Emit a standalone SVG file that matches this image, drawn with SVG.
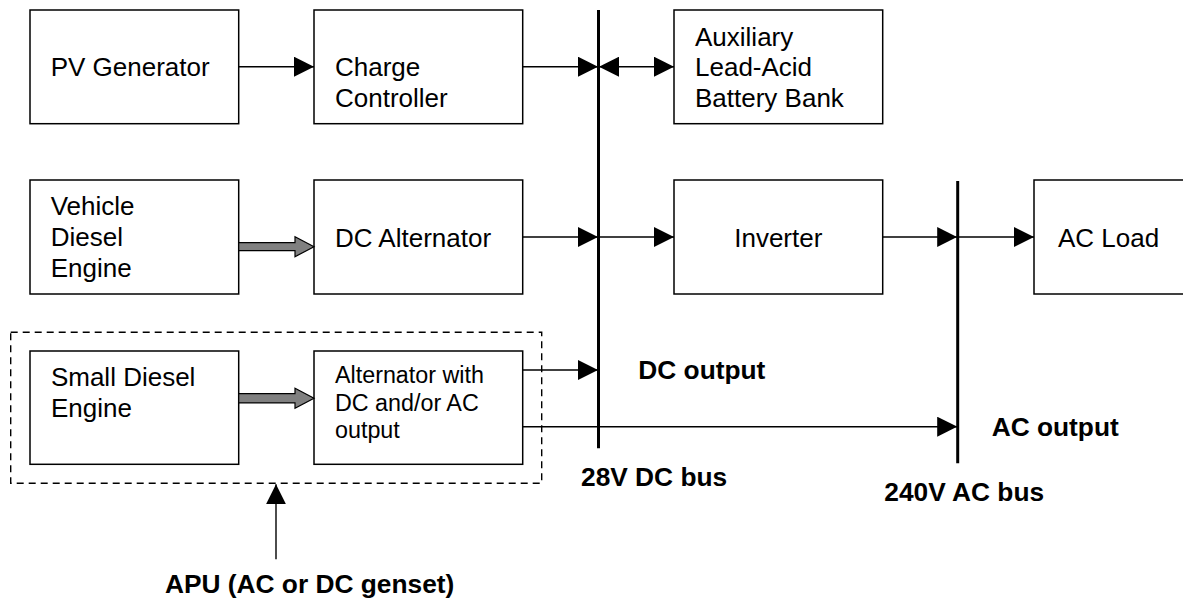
<svg xmlns="http://www.w3.org/2000/svg" width="1183" height="600" viewBox="0 0 1183 600">
<style>
.box{fill:#fff;stroke:#000;stroke-width:1.5}
.t{font-family:"Liberation Sans",Arial,sans-serif;font-size:26px;fill:#000}
.ts{font-family:"Liberation Sans",Arial,sans-serif;font-size:23.3px;fill:#000}
.b{font-family:"Liberation Sans",Arial,sans-serif;font-size:26.3px;font-weight:bold;fill:#000}
.ln{stroke:#000;stroke-width:1.4;fill:none}
.bus{stroke:#000;stroke-width:3;fill:none}
.gray{fill:#808080;stroke:#000;stroke-width:1.2}
.dash{fill:none;stroke:#000;stroke-width:1.4;stroke-dasharray:7 5}
</style>
<defs>
<marker id="ah" viewBox="0 0 20 20" refX="20" refY="10" markerWidth="20" markerHeight="20" markerUnits="userSpaceOnUse" orient="auto">
<path d="M0,0 L20,10 L0,20 Z" fill="#000"/>
</marker>
</defs>

<g id="apu-boundary">
<rect class="dash" x="10.7" y="332.3" width="531" height="151"/>
</g>

<g id="pv-generator">
<rect class="box" x="30" y="10" width="208.7" height="113.7"/>
<text class="t" x="50.7" y="76">PV Generator</text>
</g>
<g id="charge-controller">
<rect class="box" x="314" y="10" width="208.7" height="113.7"/>
<text class="t" x="335" y="76">Charge</text>
<text class="t" x="335" y="106.5">Controller</text>
</g>
<g id="battery-bank">
<rect class="box" x="674" y="10" width="208.7" height="113.7"/>
<text class="t" x="695" y="45.7">Auxiliary</text>
<text class="t" x="695" y="76">Lead-Acid</text>
<text class="t" x="695" y="106.5">Battery Bank</text>
</g>
<g id="vehicle-engine">
<rect class="box" x="30" y="180" width="208.7" height="114"/>
<text class="t" x="50.7" y="215">Vehicle</text>
<text class="t" x="50.7" y="246">Diesel</text>
<text class="t" x="50.7" y="276.7">Engine</text>
</g>
<g id="dc-alternator">
<rect class="box" x="314" y="180" width="208.7" height="114"/>
<text class="t" x="335" y="246.5">DC Alternator</text>
</g>
<g id="inverter">
<rect class="box" x="674" y="180" width="208.7" height="114"/>
<text class="t" x="778.3" y="246.5" text-anchor="middle">Inverter</text>
</g>
<g id="ac-load">
<rect class="box" x="1034" y="180" width="160" height="114"/>
<text class="t" x="1058" y="246.5">AC Load</text>
</g>
<g id="small-engine">
<rect class="box" x="30" y="351" width="208.7" height="113.3"/>
<text class="t" x="50.9" y="386">Small Diesel</text>
<text class="t" x="50.9" y="416.7">Engine</text>
</g>
<g id="apu-alternator">
<rect class="box" x="314" y="351" width="208.7" height="113.3"/>
<text class="ts" x="335" y="383.3">Alternator with</text>
<text class="ts" x="335" y="410.5">DC and/or AC</text>
<text class="ts" x="335" y="437.7">output</text>
</g>

<g id="dc-bus">
<line class="bus" x1="598.5" y1="10" x2="598.5" y2="448.3"/>
<text class="b" x="581" y="485.7">28V DC bus</text>
<text class="b" x="638.3" y="379.3">DC output</text>
</g>
<g id="ac-bus">
<line class="bus" x1="957.7" y1="181" x2="957.7" y2="463.3"/>
<text class="b" x="884.3" y="500.7">240V AC bus</text>
<text class="b" x="991.7" y="436">AC output</text>
</g>
<g id="apu-label">
<text class="b" x="165" y="593">APU (AC or DC genset)</text>
</g>

<g id="connectors">
<line class="ln" x1="238.7" y1="66.7" x2="314" y2="66.7" marker-end="url(#ah)"/>
<line class="ln" x1="522.7" y1="66.7" x2="598" y2="66.7" marker-end="url(#ah)"/>
<line class="ln" x1="619" y1="66.7" x2="599" y2="66.7" marker-end="url(#ah)"/>
<line class="ln" x1="619" y1="66.7" x2="674" y2="66.7" marker-end="url(#ah)"/>
<line class="ln" x1="522.7" y1="237" x2="598" y2="237" marker-end="url(#ah)"/>
<line class="ln" x1="599" y1="237" x2="674" y2="237" marker-end="url(#ah)"/>
<line class="ln" x1="882.7" y1="237" x2="957.2" y2="237" marker-end="url(#ah)"/>
<line class="ln" x1="958.5" y1="237" x2="1034" y2="237" marker-end="url(#ah)"/>
<line class="ln" x1="522.7" y1="370" x2="598" y2="370" marker-end="url(#ah)"/>
<line class="ln" x1="522.7" y1="426.7" x2="957.2" y2="426.7" marker-end="url(#ah)"/>
<line class="ln" x1="276" y1="559.3" x2="276" y2="484.3" marker-end="url(#ah)"/>
<polygon class="gray" points="238.7,242.7 295,242.7 295,236.7 314,246.7 295,256.7 295,250.7 238.7,250.7"/>
<polygon class="gray" points="238.7,393.7 295,393.7 295,388.3 314,398.3 295,408.3 295,402.9 238.7,402.9"/>
</g>
</svg>
